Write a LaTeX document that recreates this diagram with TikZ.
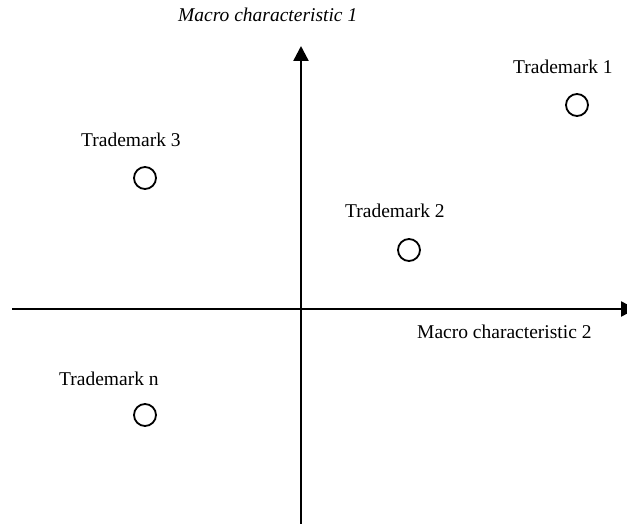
\documentclass[tikz,border=0pt]{standalone}
\usepackage{fontspec}
\setmainfont{Liberation Serif}
\usetikzlibrary{arrows.meta}
\begin{document}
\begin{tikzpicture}[x=1pt,y=-1pt,
  axis/.style={line width=2.4pt,-{Triangle[length=15pt,width=15pt]}},
  brand/.style={circle,draw,line width=1.8pt,minimum size=22pt,inner sep=0pt},
  lbl/.style={anchor=base west,inner sep=0pt,font=\fontsize{19.5}{22}\selectfont}]
  \useasboundingbox (0,0) rectangle (627,524);
  \clip (0,0) rectangle (627,524);
  % axes
  \coordinate (xs) at (12,309);
  \coordinate (xe) at (636,309);
  \coordinate (ys) at (301,530);
  \coordinate (ye) at (301,46);
  \draw[axis] (xs) -- (xe);
  \draw[axis] (ys) -- (ye);
  % axis titles
  \node[lbl,font=\fontsize{19.5}{22}\selectfont\itshape] (t1) at (178,22) {Macro characteristic 1};
  \node[lbl] (t2) at (417,338) {Macro characteristic 2};
  % trademarks
  \node[brand] (c1) at (577,105) {};
  \node[lbl] (l1) at (513,74) {Trademark 1};
  \node[brand] (c3) at (145,178) {};
  \node[lbl] (l3) at (81,147) {Trademark 3};
  \node[brand] (c2) at (409,250) {};
  \node[lbl] (l2) at (345,218) {Trademark 2};
  \node[brand] (cn) at (145,415) {};
  \node[lbl] (ln) at (59,385) {Trademark n};
\end{tikzpicture}
\end{document}
